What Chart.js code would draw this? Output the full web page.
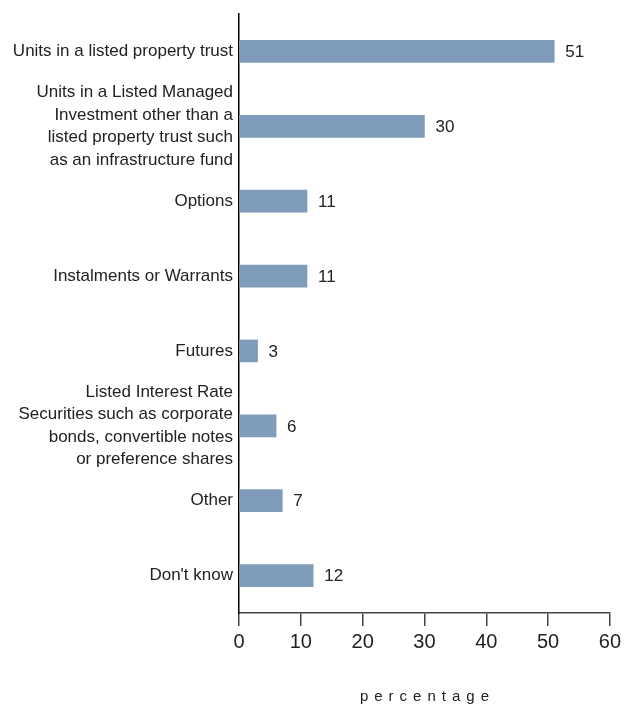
<!DOCTYPE html>
<html>
<head>
<meta charset="utf-8">
<script src="https://cdn.jsdelivr.net/npm/chart.js@4/dist/chart.umd.min.js"></script>
<style>
  html, body { margin: 0; padding: 0; background: #fff; }
  #wrap { width: 625px; height: 707px; position: relative; }
</style>
</head>
<body>
<div id="wrap"><canvas id="c" width="625" height="707"></canvas></div>
<script>
// Categories (multi-line labels as arrays)
const categories = [
  ["Units in a listed property trust"],
  ["Units in a Listed Managed", "Investment other than a", "listed property trust such", "as an infrastructure fund"],
  ["Options"],
  ["Instalments or Warrants"],
  ["Futures"],
  ["Listed Interest Rate", "Securities such as corporate", "bonds, convertible notes", "or preference shares"],
  ["Other"],
  ["Don't know"]
];
const values = [51, 30, 11, 11, 3, 6, 7, 12];
const xTicks = [0, 10, 20, 30, 40, 50, 60];
const axisTitle = "percentage";

const FONT = "'Liberation Sans Narrow', 'Liberation Sans', sans-serif";
const BAR = "#7f9cba";
const TEXT = "#222";

const valueLabels = {
  id: "valueLabels",
  afterDatasetsDraw(chart) {
    const ctx = chart.ctx;
    const meta = chart.getDatasetMeta(0);
    ctx.save();
    ctx.font = "17px " + FONT;
    ctx.fillStyle = TEXT;
    ctx.textAlign = "left";
    ctx.textBaseline = "middle";
    meta.data.forEach((bar, i) => {
      ctx.fillText(String(values[i]), bar.x + 11, bar.y + 1);
    });
    ctx.restore();
  }
};

const spacedTitle = {
  id: "spacedTitle",
  afterDraw(chart) {
    const ctx = chart.ctx;
    const area = chart.chartArea;
    ctx.save();
    ctx.font = "15px " + FONT;
    ctx.fillStyle = TEXT;
    ctx.textBaseline = "middle";
    const gap = 6;
    const chars = axisTitle.split("");
    const widths = chars.map(ch => ctx.measureText(ch).width);
    const total = widths.reduce((a, b) => a + b, 0) + gap * (chars.length - 1);
    let x = (area.left + area.right) / 2 - total / 2;
    ctx.textAlign = "left";
    chars.forEach((ch, i) => {
      ctx.fillText(ch, x, 697);
      x += widths[i] + gap;
    });
    ctx.restore();
  }
};

new Chart(document.getElementById("c"), {
  type: "bar",
  data: {
    labels: categories,
    datasets: [{
      data: values,
      backgroundColor: BAR,
      borderWidth: 0,
      barThickness: 22
    }]
  },
  options: {
    indexAxis: "y",
    responsive: false,
    animation: false,
    devicePixelRatio: 1,
    layout: { padding: { top: 14, right: 14, left: 0, bottom: 0 } },
    plugins: {
      legend: { display: false },
      tooltip: { enabled: false }
    },
    scales: {
      x: {
        min: 0,
        max: 60,
        afterBuildTicks(scale) { scale.ticks = xTicks.map(v => ({ value: v })); },
        afterFit(scale) { scale.height = 94; },
        grid: {
          drawOnChartArea: false,
          drawTicks: true,
          tickLength: 13,
          color: "#444",
          lineWidth: 1.5
        },
        border: { display: true, color: "#444", width: 1.5 },
        ticks: {
          color: TEXT,
          font: { family: FONT, size: 20 },
          padding: 4,
          maxRotation: 0
        }
      },
      y: {
        afterFit(scale) {
          scale.width = 239;
          scale.paddingTop = 0;
          scale.paddingBottom = 0;
        },
        grid: { display: false, drawTicks: false },
        border: { display: true, color: "#000", width: 1.5 },
        ticks: {
          color: TEXT,
          autoSkip: false,
          font: { family: FONT, size: 17, lineHeight: 1.32 },
          padding: 6
        }
      }
    }
  },
  plugins: [valueLabels, spacedTitle]
});
</script>
</body>
</html>
